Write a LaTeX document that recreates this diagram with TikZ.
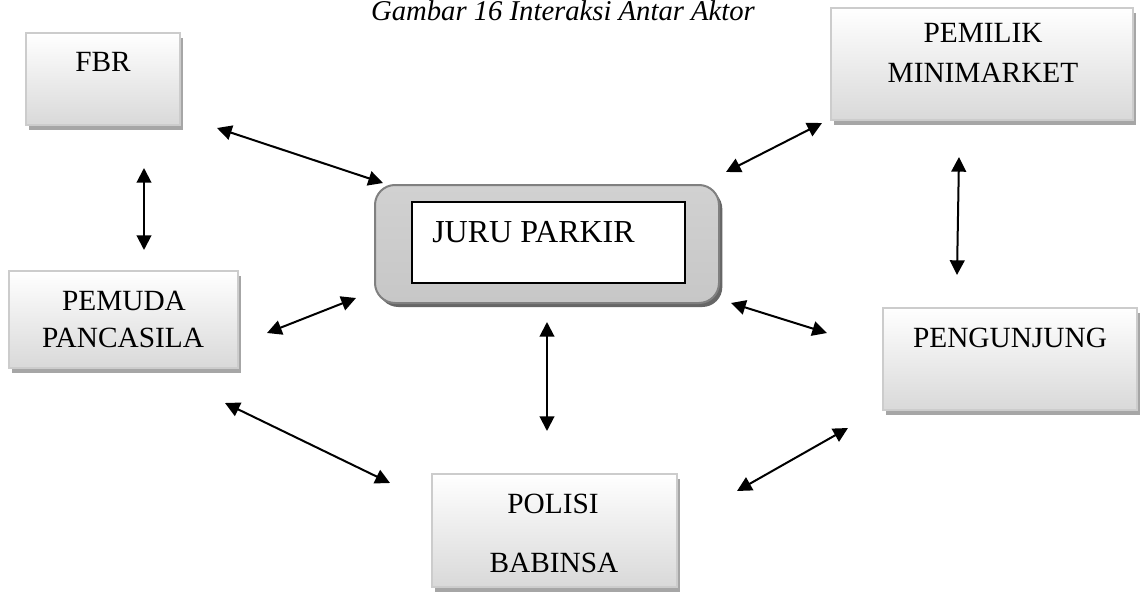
\documentclass[tikz,border=0pt]{standalone}
\usepackage{fontspec}
\setmainfont{Liberation Serif}
\usetikzlibrary{shadows,fit,arrows.meta}
\begin{document}
\begin{tikzpicture}[x=0.75pt,y=-0.75pt,
  actor/.style={draw=black!20, line width=1.5pt, top color=white, bottom color=black!15,
    inner sep=0pt, drop shadow={shadow xshift=2.6pt, shadow yshift=-3.5pt, fill=black!35, opacity=1}},
  hub/.style={draw=black!50, line width=1.5pt, rounded corners=15pt, top color=black!18,
    middle color=black!40, bottom color=black!22, inner sep=0pt,
    drop shadow={shadow xshift=2.5pt, shadow yshift=-3pt, fill=black!60, opacity=1}},
  inner/.style={draw=black, line width=1.1pt, fill=white, inner sep=0pt},
  lbl/.style={font=\fontsize{22}{26}\selectfont, inner sep=0pt, anchor=base},
  conn/.style={{Triangle[length=11pt,width=11pt]}-{Triangle[length=11pt,width=11pt]}, line width=1.5pt}
]
\useasboundingbox (0,0) rectangle (1140,592);
\clip (0,0) rectangle (1140,592);

% caption
\node[lbl, font=\itshape\fontsize{21.5}{25}\selectfont] (cap) at (563,21) {Gambar 16 Interaksi Antar Aktor};

% boxes
\node[actor, fit={(26,33) (180,125)}] (fbr) {};
\node[lbl] (fbrt) at (103,72) {FBR};

\node[actor, fit={(831,8) (1133,120)}] (pem) {};
\node[lbl] (pemt1) at (983,43) {PEMILIK};
\node[lbl] (pemt2) at (983,83) {MINIMARKET};

\node[actor, fit={(9,271) (238,368)}] (pp) {};
\node[lbl] (ppt1) at (124,310) {PEMUDA};
\node[lbl] (ppt2) at (123,347) {PANCASILA};

\node[actor, fit={(883,308) (1137,410)}] (pgj) {};
\node[lbl] (pgjt) at (1010,347) {PENGUNJUNG};

\node[actor, fit={(432,474) (677,587)}] (pol) {};
\node[lbl] (polt1) at (553,513) {POLISI};
\node[lbl] (polt2) at (554,572) {BABINSA};

\node[hub, fit={(375,185) (719,303)}] (jp) {};
\node[inner, fit={(412,202) (685,283)}] (jpin) {};
\node[lbl, anchor=base west, font=\fontsize{24}{28}\selectfont] (jpt) at (432,243) {JURU PARKIR};

% arrow end points
\coordinate (a1) at (217,128); \coordinate (b1) at (383,183);
\coordinate (a2) at (144,168); \coordinate (b2) at (144,250);
\coordinate (a3) at (267,333); \coordinate (b3) at (356,298);
\coordinate (a4) at (225,403); \coordinate (b4) at (390,483);
\coordinate (a5) at (547,322); \coordinate (b5) at (547,431);
\coordinate (a6) at (731,303); \coordinate (b6) at (827,333);
\coordinate (a7) at (726,172); \coordinate (b7) at (822,123);
\coordinate (a8) at (959,157); \coordinate (b8) at (957,275);
\coordinate (a9) at (737,491); \coordinate (b9) at (848,428);

\foreach \i in {1,...,9} {\draw[conn] (a\i) -- (b\i);}
\end{tikzpicture}
\end{document}
